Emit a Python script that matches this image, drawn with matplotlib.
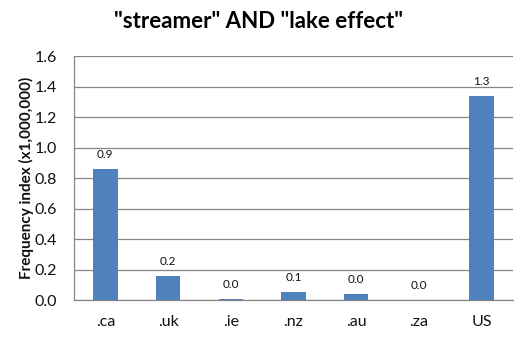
import matplotlib
matplotlib.use("Agg")
import matplotlib.pyplot as plt

categories = [".ca", ".uk", ".ie", ".nz", ".au", ".za", "US"]
values = [0.86, 0.155, 0.007, 0.054, 0.04, 0.0, 1.34]
yticks = [0.0, 0.2, 0.4, 0.6, 0.8, 1.0, 1.2, 1.4, 1.6]

plt.rcParams['font.family'] = ['Lato', 'DejaVu Sans']

fig = plt.figure(figsize=(5.27, 3.38), dpi=100)
ax = fig.add_axes([0.1404, 0.1124, 0.833, 0.721])

bar_color = "#4F81BD"
grid_color = "#868686"

x = list(range(len(categories)))
bars = ax.bar(x, values, width=0.39, color=bar_color, zorder=3)

for xi, v in zip(x, values):
    ax.annotate(f"{v:.1f}", (xi, v), xytext=(0, 6.5), textcoords="offset points",
                ha="center", va="bottom", fontsize=8.5, color="#111111")

ax.set_xlim(-0.5, len(categories) - 0.5)
ax.set_ylim(0, 1.6)
ax.set_yticks(yticks)
ax.set_yticklabels([f"{t:.1f}" for t in yticks], fontsize=11.5)
ax.set_xticks(x)
ax.set_xticklabels(categories, fontsize=11.5)
ax.tick_params(axis="both", length=0, colors="#111111")
ax.tick_params(axis="y", pad=12)
ax.tick_params(axis="x", pad=11)

ax.yaxis.grid(True, color=grid_color, linewidth=0.9, zorder=0)
ax.set_axisbelow(True)
for side in ("top", "right"):
    ax.spines[side].set_visible(False)
for side in ("left", "bottom"):
    ax.spines[side].set_color(grid_color)
    ax.spines[side].set_linewidth(0.9)

ax.set_ylabel("Frequency index (x1,000,000)", fontsize=11, fontweight="bold",
              color="#111111")
ax.yaxis.set_label_coords(-0.091, 0.5)
fig.text(0.49, 0.935, '"streamer" AND "lake effect"', ha="center", va="center",
         fontsize=16, fontweight="bold", color="#000000")

fig.savefig("out.png", dpi=100)
